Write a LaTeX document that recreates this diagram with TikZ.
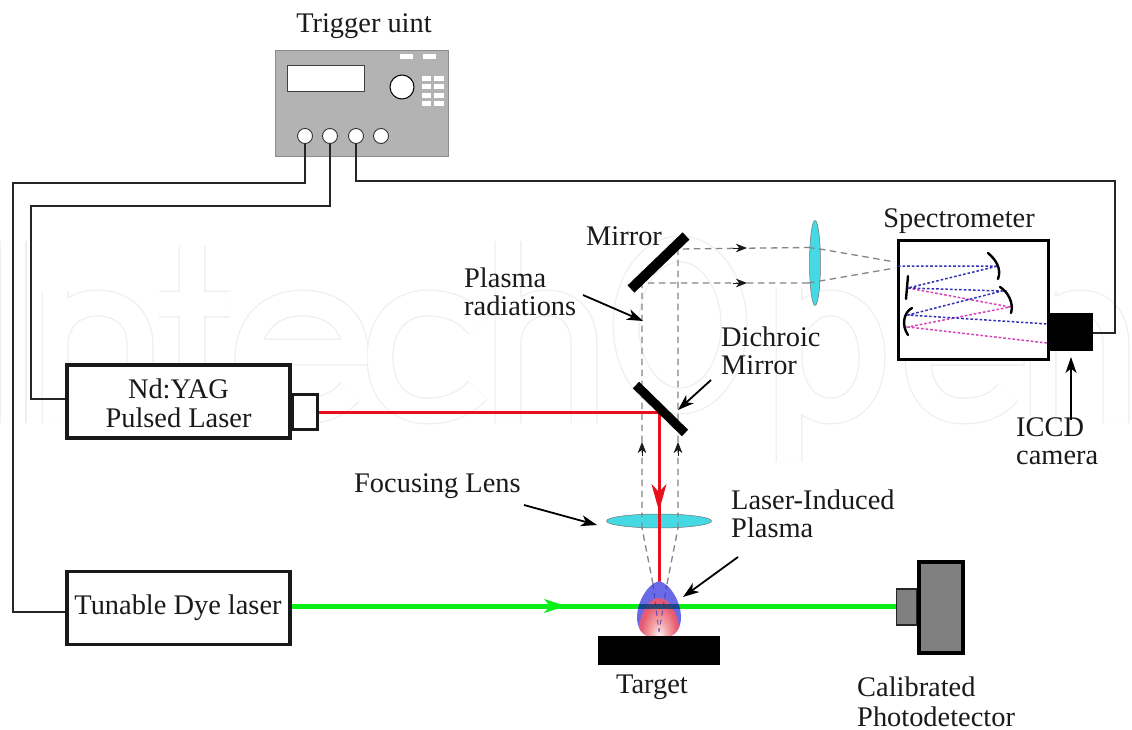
\documentclass[tikz,border=0pt]{standalone}
\usepackage{fontspec}
\setmainfont{Liberation Serif}
\usetikzlibrary{arrows.meta,shapes.geometric,calc}
\definecolor{panelgray}{HTML}{B3B3B3}
\definecolor{lenscyan}{HTML}{45D9E4}
\definecolor{beamgray}{HTML}{858585}
\definecolor{laserred}{HTML}{E8101C}
\definecolor{lasergreen}{HTML}{08F018}
\definecolor{darkgray}{HTML}{808080}
\definecolor{specblue}{HTML}{3030B8}
\definecolor{specpink}{HTML}{D840B8}
\definecolor{wmgray}{HTML}{EFEFEF}
\definecolor{txt}{HTML}{1A1A1A}
\definecolor{plasmablue}{HTML}{6A6AE6}
\definecolor{plasmamid}{HTML}{B060C0}
\definecolor{plasmared}{HTML}{E85A70}
\definecolor{plasmapale}{HTML}{F4B0B0}
\pgfdeclareradialshading{plasmashade}{\pgfpoint{0bp}{0bp}}{%
 color(0bp)=(white);
 color(9bp)=(plasmapale);
 color(22bp)=(plasmared);
 color(36bp)=(plasmamid);
 color(50bp)=(plasmablue)}
\tikzset{
  label text/.style={font=\fontsize{28.4}{28}\selectfont,text=txt,inner sep=0pt,align=left},
  wire/.style={draw=black!85,line width=1.4pt},
  box/.style={draw=black!90,line width=3.8pt,fill=white,inner sep=0pt},
  panelkey/.style={fill=white,minimum width=9.5pt,minimum height=5pt,inner sep=0pt},
  port/.style={circle,fill=white,draw=black!80,line width=.9pt,minimum size=15pt,inner sep=0pt},
  beam/.style={draw=beamgray,line width=1.3pt,dash pattern=on 6.5pt off 4.5pt},
  pointer/.style={draw=black,line width=1.8pt,-{Stealth[length=16pt,width=11pt,inset=4.5pt]}},
  beamhead/.style={-{Stealth[length=11pt,width=8.5pt,inset=3.2pt]},draw=black!90,line width=.8pt},
  optic/.style={draw=black,line width=2.4pt,line cap=round},
  specray/.style={line width=1.5pt,dash pattern=on 2.6pt off 2pt},
  lens/.style={ellipse,fill=lenscyan,draw=black!55,line width=.5pt,inner sep=0pt},
  wmstroke/.style={line width=27pt,draw=wmgray},
  wmfill/.style={line width=24.4pt,draw=white}
}
\newcommand{\wmletters}[1]{%
 \draw[#1] (13,241)--(13,423);
 \draw[#1] (55,423)--(55,291) (55,345) .. controls (55,318) and (75,303) .. (97,303) .. controls (122,303) and (140,318) .. (140,345) -- (140,423);
 \draw[#1] (192,246)--(192,385) .. controls (192,403) and (205,410) .. (230,410) (159,304)--(230,304);
 \draw[#1] (248,352)--(355,352) .. controls (355,320) and (332,303) .. (302,303) .. controls (270,303) and (248,325) .. (248,358) .. controls (248,392) and (272,411) .. (302,411) .. controls (325,411) and (340,403) .. (350,392);
 \draw[#1] (478,325) .. controls (465,310) and (448,303) .. (428,303) .. controls (398,303) and (380,325) .. (380,357) .. controls (380,390) and (398,411) .. (428,411) .. controls (448,411) and (465,404) .. (478,390);
 \draw[#1] (508,241)--(508,423) (508,345) .. controls (508,318) and (525,303) .. (547,303) .. controls (570,303) and (584,318) .. (584,345) -- (584,423);
 \draw[#1] (680,325) ellipse [x radius=54,y radius=76];
 \draw[#1] (789,287)--(789,462) (789,357) .. controls (789,325) and (808,303) .. (830,303) .. controls (855,303) and (872,325) .. (872,357) .. controls (872,390) and (855,411) .. (830,411) .. controls (808,411) and (789,390) .. (789,357);
 \draw[#1] (918,352)--(1011,352) .. controls (1011,320) and (992,303) .. (964,303) .. controls (936,303) and (918,325) .. (918,358) .. controls (918,392) and (936,411) .. (964,411) .. controls (985,411) and (1000,403) .. (1008,392);
 \draw[#1] (1043,423)--(1043,291) (1043,345) .. controls (1043,318) and (1060,303) .. (1080,303) .. controls (1102,303) and (1116,318) .. (1116,345) -- (1116,423);
}
\newcommand{\eggpath}{(659,581) .. controls (671,584) and (681,603) .. (681,617) .. controls (681,628) and (676,634) .. (670,636.5) -- (648,636.5) .. controls (642,634) and (637,628) .. (637,617) .. controls (637,603) and (647,584) .. (659,581) -- cycle}
\begin{document}
\begin{tikzpicture}[x=1pt,y=-1pt]
\useasboundingbox (0,0) rectangle (1132,730);
\fill[white] (0,0) rectangle (1132,730);
% watermark
\wmletters{wmstroke}
\wmletters{wmfill}

% named points for connectors
\coordinate (w1) at (13,183);
\coordinate (w2) at (31,206);
\coordinate (w3) at (1115,181);
\coordinate (dyeport) at (65,612);
\coordinate (yagport) at (65,399);
\coordinate (camport) at (1093,333);
\coordinate (redcorner) at (659,412);
\coordinate (redend) at (659,585);
\coordinate (greenhead) at (566,606);
\coordinate (redhead) at (659,511);

% trigger panel
\node[draw=black!45,line width=.8pt,fill=panelgray,minimum width=173pt,minimum height=106pt,inner sep=0pt] (panel) at (362,103.5) {};
\node[fill=white,draw=black!75,line width=1pt,minimum width=77pt,minimum height=26pt,inner sep=0pt] (display) at (326,79) {};
\node[circle,fill=white,draw=black,line width=1pt,minimum size=24pt,inner sep=0pt] (knob) at (402,87) {};
\node[panelkey,minimum width=12.5pt] (tb1) at (406.3,56.5) {};
\node[panelkey,minimum width=12.5pt] (tb2) at (429.7,56.5) {};
\node[panelkey] (k1) at (426.5,79) {}; \node[panelkey] (k2) at (439,79) {};
\node[panelkey] (k3) at (426.5,87) {}; \node[panelkey] (k4) at (439,87) {};
\node[panelkey] (k5) at (426.5,96) {}; \node[panelkey] (k6) at (439,96) {};
\node[panelkey] (k7) at (426.5,104) {}; \node[panelkey] (k8) at (439,104) {};
\node[port] (p1) at (305,136) {};
\node[port] (p2) at (330,136) {};
\node[port] (p3) at (356,136) {};
\node[port] (p4) at (381,136) {};

% boxes
\node[box,minimum width=223pt,minimum height=73pt] (yag) at (178.5,401.5) {};
\node[label text,align=center,font=\fontsize{28.4}{29}\selectfont] (yagtext) at (178.5,403) {Nd:YAG\\Pulsed Laser};
\node[draw=black!90,line width=2.8pt,fill=white,minimum width=25pt,minimum height=35pt,inner sep=0pt] (yagtip) at (305,412) {};
\node[box,minimum width=223pt,minimum height=73pt] (dye) at (178.5,608) {};
\node[label text] (dyetext) at (178,608) {Tunable Dye laser};

% wires
\draw[wire] (p1.south) |- (w1) |- (dyeport);
\draw[wire] (p2.south) |- (w2) |- (yagport);
\draw[wire] (p3.south) |- (w3) |- (camport);

% beams of radiation
\coordinate (bl1) at (642,283); \coordinate (bl2) at (642,528); \coordinate (bl3) at (653,584);
\coordinate (br1) at (678,249); \coordinate (br2) at (678,528); \coordinate (br3) at (667,584);
\coordinate (hu) at (808,247.5); \coordinate (hl) at (808,283);
\coordinate (su) at (895,262); \coordinate (sl) at (895,268);
\coordinate (upl) at (642,442); \coordinate (upr) at (678,442);
\coordinate (heada) at (747,248); \coordinate (headb) at (747,283);
\draw[beam] (bl3)--(bl2)--(bl1)--(hl);
\draw[beam] (br3)--(br2)--(br1)--(hu);
\draw[beamhead] ($(heada)+(-14,0)$) -- (heada);
\draw[beamhead] ($(headb)+(-14,0)$) -- (headb);
\draw[beamhead] ($(upl)+(0,14)$) -- (upl);
\draw[beamhead] ($(upr)+(0,14)$) -- (upr);

% green + red lasers
\node[draw=black,line width=4pt,fill=darkgray,minimum width=44pt,minimum height=91pt,inner sep=0pt] (det) at (941,607.5) {};
\node[draw=black!85,line width=1.8pt,fill=darkgray,minimum width=20pt,minimum height=36pt,inner sep=0pt] (detfront) at (906.5,607) {};
\draw[lasergreen,line width=5pt] (dye.east |- 0,606) -- (detfront.west |- 0,606);
\draw[lasergreen,-{Stealth[length=22pt,width=14pt,inset=6pt]},line width=2pt] ($(greenhead)+(-22,0)$) -- (greenhead);

% focusing lens, behind the red beam
\node[lens,minimum width=105pt,minimum height=14pt] (flens) at (659,521) {};
\draw[beam,opacity=.55] (bl2)--(642,513) (br2)--(678,513);
\draw[laserred,line width=3pt] (yagtip.east |- 0,412) -- (redcorner) -- (redend);
\draw[laserred,line width=2pt,-{Stealth[length=27pt,width=15pt,inset=8pt]}] ($(redhead)+(0,-30)$) -- (redhead);

% plasma
\fill[plasmablue] \eggpath;
\begin{scope}
\clip \eggpath;
\path[shading=plasmashade] (659,638) ellipse [x radius=21,y radius=40];
\fill[fill=black!55!green!55!blue,opacity=.8] (630,603.5) rectangle (690,608.5);
\draw[specblue,line width=1pt,dash pattern=on 5pt off 4pt,opacity=.7] (653,584)--(659,632) (667,584)--(659,632);
\end{scope}
\node[fill=black,minimum width=122pt,minimum height=29pt,inner sep=0pt] (target) at (659,650.5) {};

% mirrors
\coordinate (m1a) at (631,289); \coordinate (m1b) at (686,236);
\coordinate (m2a) at (636,385); \coordinate (m2b) at (685,433);
\draw[black,line width=10pt] (m1a)--(m1b);
\draw[black,line width=9pt] (m2a)--(m2b);

% collection lens
\node[lens,minimum width=11pt,minimum height=85pt] (clens) at (815,263) {};
\draw[beam] (808,247.5)--(820,249)--(su);
\draw[beam] (808,283)--(820,281)--(sl);

% spectrometer
\node[draw=black,line width=3pt,fill=white,minimum width=150pt,minimum height=119pt,inner sep=0pt] (spec) at (973,300) {};
\node[fill=black,minimum width=44pt,minimum height=38pt,inner sep=0pt] (cam) at (1071,332) {};
\coordinate (s0) at (898,266); \coordinate (sm1) at (998,266); \coordinate (gr) at (908,288);
\coordinate (sm2b) at (1002,291); \coordinate (sm3b) at (908,315); \coordinate (outb) at (1048,324);
\coordinate (sm2p) at (1010,307); \coordinate (sm3p) at (908,327); \coordinate (outp) at (1047,343);
\draw[specray,specpink] (gr)--(sm2p)--(sm3p)--(outp);
\draw[specray,specblue] (s0)--(sm1)--(gr)--(sm2b)--(sm3b)--(outb);
\draw[optic] (988,253) .. controls (995,259) and (1002,268) .. (998,279);
\draw[optic] (908,276)--(906,299);
\draw[optic] (1000,287) .. controls (1008,292) and (1014,303) .. (1011,313);
\draw[optic] (912,308) .. controls (904,312) and (901,325) .. (908,335);

% labels
\node[label text] (ltrig) at (364,26) {Trigger uint};
\node[label text] (lspec) at (959,221) {Spectrometer};
\node[label text,anchor=west] (lmirror) at (586,236) {Mirror};
\node[label text,anchor=west] (lplasma) at (464,292) {Plasma\\radiations};
\node[label text,anchor=west] (ldich) at (721,351) {Dichroic\\Mirror};
\node[label text,anchor=west] (lfocus) at (354,486) {Focusing Lens};
\node[label text,anchor=west] (llip) at (731,514) {Laser-Induced\\Plasma};
\node[label text] (ltarget) at (652,687) {Target};
\node[label text,anchor=west,font=\fontsize{28.4}{30}\selectfont] (lcal) at (857,701.5) {Calibrated\\Photodetector};
\node[label text,anchor=west] (liccd) at (1016,441) {ICCD\\camera};

% pointers
\coordinate (a1) at (583,295); \coordinate (a1e) at (643,321);
\coordinate (a2) at (711,380); \coordinate (a2e) at (678,410);
\coordinate (a3) at (524,505); \coordinate (a3e) at (597,525);
\coordinate (a4) at (738,557); \coordinate (a4e) at (683,597);
\coordinate (a5) at (1071,420); \coordinate (a5e) at (1071,357);
\draw[pointer] (a1)--(a1e);
\draw[pointer] (a2)--(a2e);
\draw[pointer] (a3)--(a3e);
\draw[pointer] (a4)--(a4e);
\draw[pointer,line width=1.5pt] (a5)--(a5e);
\end{tikzpicture}
\end{document}
